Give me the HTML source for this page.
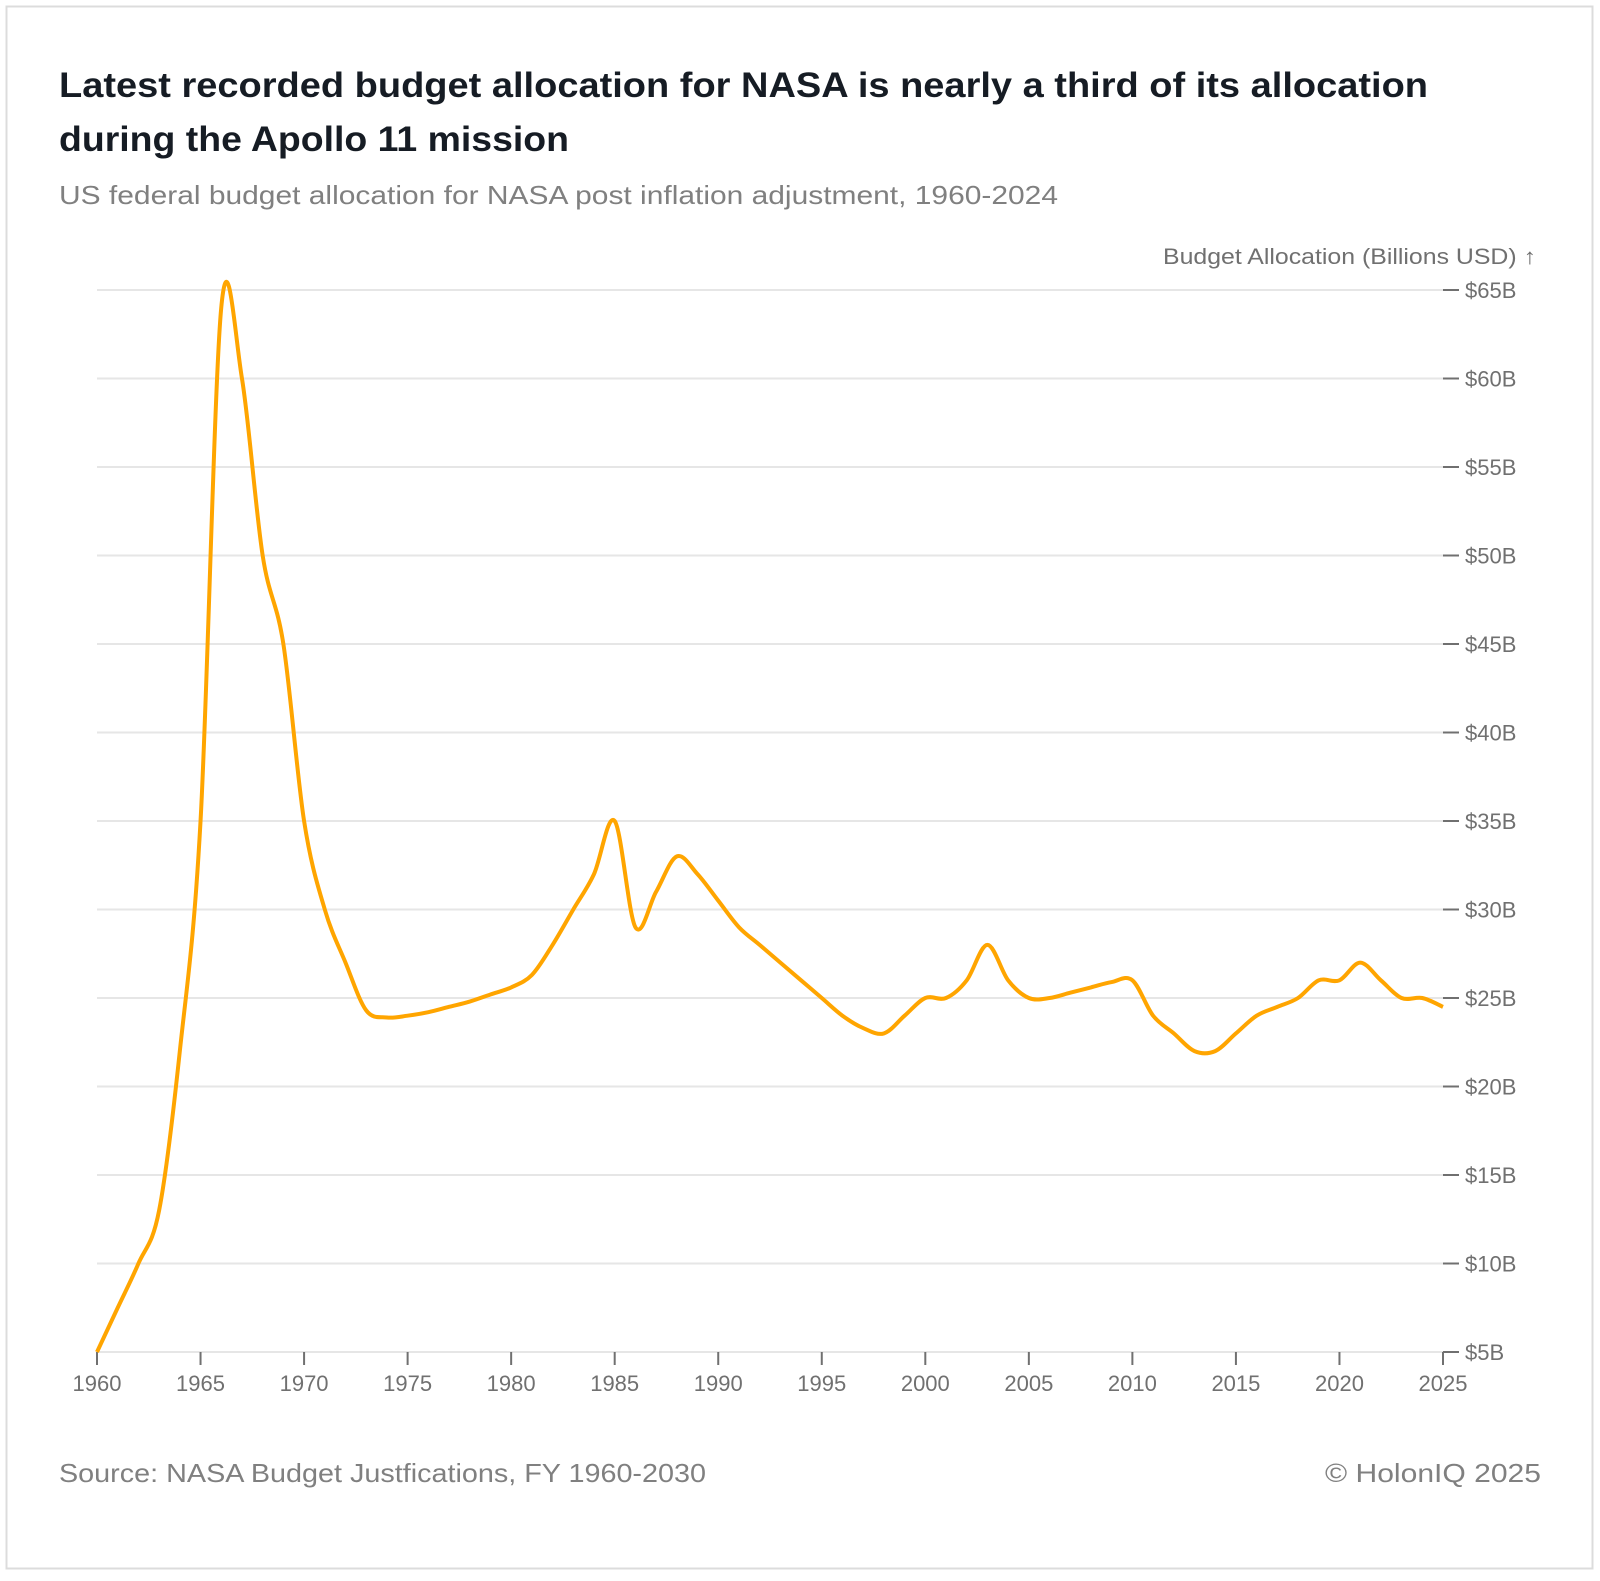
<!DOCTYPE html>
<html><head><meta charset="utf-8"><style>
body{margin:0;background:#fff;width:1600px;height:1576px;overflow:hidden;font-family:"Liberation Sans",sans-serif}
</style></head><body>
<svg width="1600" height="1576" xmlns="http://www.w3.org/2000/svg">
<rect x="6.5" y="6.5" width="1586" height="1562" fill="#fff" stroke="#dcdcdc" stroke-width="2"/>
<text x="59" y="97" font-size="35" font-weight="bold" fill="#161c24" textLength="1369" lengthAdjust="spacingAndGlyphs">Latest recorded budget allocation for NASA is nearly a third of its allocation</text>
<text x="59" y="151" font-size="35" font-weight="bold" fill="#161c24" textLength="510" lengthAdjust="spacingAndGlyphs">during the Apollo 11 mission</text>
<text x="59" y="204" font-size="26" fill="#808080" textLength="999" lengthAdjust="spacingAndGlyphs">US federal budget allocation for NASA post inflation adjustment, 1960-2024</text>
<text x="1536" y="264" font-size="22" fill="#707070" text-anchor="end" textLength="373" lengthAdjust="spacingAndGlyphs">Budget Allocation (Billions USD) ↑</text>
<g id="grid"></g><g id="xaxis"></g>
<path id="line" fill="none" stroke="#FFA500" stroke-width="4" stroke-linejoin="round"/>
<text x="59" y="1482" font-size="26" fill="#808080" textLength="647" lengthAdjust="spacingAndGlyphs">Source: NASA Budget Justfications, FY 1960-2030</text>
<text x="1325" y="1482" font-size="26" fill="#808080" textLength="216" lengthAdjust="spacingAndGlyphs">© HolonIQ 2025</text>
</svg>
<script>
const years=[1960,1961,1962,1963,1964,1965,1966,1967,1968,1969,1970,1971,1972,1973,1974,1975,1976,1977,1978,1979,1980,1981,1982,1983,1984,1985,1986,1987,1988,1989,1990,1991,1992,1993,1994,1995,1996,1997,1998,1999,2000,2001,2002,2003,2004,2005,2006,2007,2008,2009,2010,2011,2012,2013,2014,2015,2016,2017,2018,2019,2020,2021,2022,2023,2024,2025];
const budget=[5,7.5,10,13,22,35,64,60,50,45,35,30,27,24.3,23.9,24,24.2,24.5,24.8,25.2,25.6,26.3,28,30,32,35,29,31,33,32,30.5,29,28,27,26,25,24,23.3,23,24,25,25,26,28,26,25,25,25.3,25.6,25.9,26,24,23,22,22,23,24,24.5,25,26,26,27,26,25,25,24.5];
const yTicks=[5,10,15,20,25,30,35,40,45,50,55,60,65];
const xTicks=[1960,1965,1970,1975,1980,1985,1990,1995,2000,2005,2010,2015,2020,2025];
const X0=97,X1=1443,Y0=1352,Y1=290;
const x=v=>X0+(v-1960)/(2025-1960)*(X1-X0);
const y=v=>Y0-(v-5)/(65-5)*(Y0-Y1);
const NS='http://www.w3.org/2000/svg';
const grid=document.getElementById('grid'),xa=document.getElementById('xaxis');
function mk(tag,attrs,parent){const e=document.createElementNS(NS,tag);for(const k in attrs)e.setAttribute(k,attrs[k]);parent.appendChild(e);return e;}
yTicks.forEach(t=>{
 const g=mk('line',{x1:X0,x2:1443,y1:y(t),y2:y(t),stroke:'#e6e6e6','stroke-width':2},grid);
 
 
 const tk=mk('line',{x1:1443,x2:1459,y1:y(t),y2:y(t),stroke:'#707070','stroke-width':2},grid);
 
 
 const tx=mk('text',{x:1465,y:y(t)+8,'font-size':22,fill:'#707070'},grid);
 tx.textContent='$'+t+'B';
 
 
});
xTicks.forEach(t=>{
 const tk=mk('line',{x1:x(t),x2:x(t),y1:Y0,y2:Y0+13,stroke:'#707070','stroke-width':2},xa);
 
 
 const tx=mk('text',{x:x(t),y:Y0+39,'font-size':22,fill:'#707070','text-anchor':'middle'},xa);
 tx.textContent=t;
 
 
});
const px=years.map(x),py=budget.map(y),n=px.length;
let s='M'+px[0]+','+py[0];
for(let i=0;i<n-1;i++){
 const i0=Math.max(0,i-1),i3=Math.min(n-1,i+2);
 const c1x=px[i]+(px[i+1]-px[i0])/6,c1y=py[i]+(py[i+1]-py[i0])/6;
 const c2x=px[i+1]-(px[i3]-px[i])/6,c2y=py[i+1]-(py[i3]-py[i])/6;
 s+='C'+c1x+','+c1y+' '+c2x+','+c2y+' '+px[i+1]+','+py[i+1];
}
document.getElementById('line').setAttribute('d',s);
</script>
</body></html>
